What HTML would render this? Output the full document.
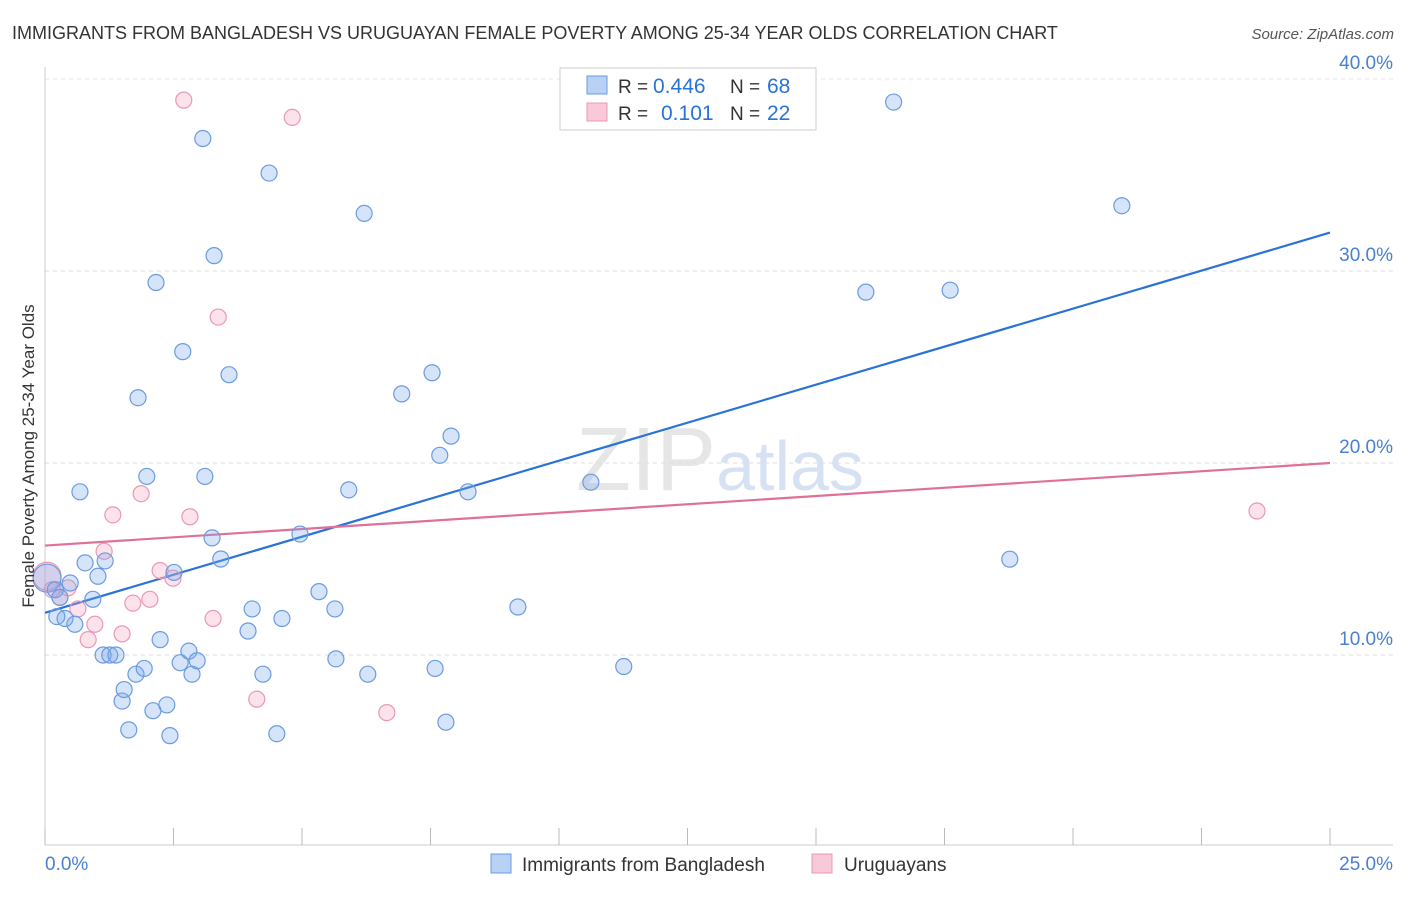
<!DOCTYPE html>
<html><head><meta charset="utf-8"><style>
body{margin:0;background:#fff;font-family:"Liberation Sans",sans-serif;}
svg text{font-family:"Liberation Sans",sans-serif;}
</style></head><body>
<svg id="chart" width="1406" height="892" xmlns="http://www.w3.org/2000/svg">
<text x="12" y="39" font-size="18" fill="#333">IMMIGRANTS FROM BANGLADESH VS URUGUAYAN FEMALE POVERTY AMONG 25-34 YEAR OLDS CORRELATION CHART</text>
<text x="1394" y="39" font-size="15" fill="#555" text-anchor="end" font-style="italic">Source: ZipAtlas.com</text>
<text x="720" y="490" font-size="90" fill="#e6e6e6" text-anchor="middle" font-family="Liberation Serif">ZIP<tspan fill="#d6e2f4" font-family="Liberation Sans" font-size="70">atlas</tspan></text>
<g id="grid"></g>
<g id="axes"></g>
<g id="lines"></g>
<g id="pts"></g>
<text transform="translate(34,456) rotate(-90)" font-size="17" fill="#333" text-anchor="middle">Female Poverty Among 25-34 Year Olds</text>
<g>
<rect x="560" y="68" width="256" height="62" fill="#fff" stroke="#ccc"/>
<rect x="587" y="76" width="20" height="18" fill="#b9d1f5" stroke="#6a9be0"/>
<text x="618" y="93" font-size="19" fill="#333">R =</text>
<text x="653" y="93" font-size="21" fill="#2a73d6">0.446</text>
<text x="730" y="93" font-size="19" fill="#333">N =</text>
<text x="767" y="93" font-size="21" fill="#2a73d6">68</text>
<rect x="587" y="103" width="20" height="18" fill="#f9c9d9" stroke="#e898b4"/>
<text x="618" y="120" font-size="19" fill="#333">R =</text>
<text x="661" y="120" font-size="21" fill="#2a73d6">0.101</text>
<text x="730" y="120" font-size="19" fill="#333">N =</text>
<text x="767" y="120" font-size="21" fill="#2a73d6">22</text>
</g>
<g>
<rect x="491" y="854" width="20" height="19" fill="#b9d1f5" stroke="#6a9be0"/>
<text x="522" y="871" font-size="19" fill="#333">Immigrants from Bangladesh</text>
<rect x="812" y="854" width="20" height="19" fill="#f9c9d9" stroke="#e898b4"/>
<text x="844" y="871" font-size="19" fill="#333">Uruguayans</text>
</g>
</svg>
<script>
const yTicks=[10,20,30,40];
const yTickLabels=["10.0%","20.0%","30.0%","40.0%"];
const xTickLabels=["0.0%","25.0%"];
const blueX=[0.04,0.2,0.29,0.23,0.39,0.49,0.58,0.68,0.78,0.93,1.03,1.13,1.17,1.26,1.38,1.5,1.54,1.63,1.77,1.81,1.93,1.98,2.1,2.16,2.24,2.37,2.43,2.51,2.63,2.68,2.8,2.86,2.96,3.07,3.11,3.25,3.29,3.42,3.58,3.95,4.03,4.24,4.36,4.51,4.61,4.96,5.33,5.64,5.66,5.91,6.21,6.28,6.94,7.53,7.59,7.68,7.8,7.9,8.23,9.2,10.62,11.26,15.97,16.51,17.61,18.77,20.95];
const blueY=[14.0,13.4,13.0,12.0,11.9,13.75,11.6,18.5,14.8,12.9,14.1,10.0,14.9,10.0,10.0,7.6,8.2,6.1,9.0,23.4,9.3,19.3,7.1,29.4,10.8,7.4,5.8,14.3,9.6,25.8,10.2,9.0,9.7,36.9,19.3,16.1,30.8,15.0,24.6,11.25,12.4,9.0,35.1,5.9,11.9,16.3,13.3,12.4,9.8,18.6,33.0,9.0,23.6,24.7,9.3,20.4,6.5,21.4,18.5,12.5,19.0,9.4,28.9,38.8,29.0,14.99,33.4];
const pinkX=[0.04,0.14,0.29,0.45,0.64,0.84,0.97,1.15,1.32,1.5,1.71,1.87,2.04,2.24,2.49,2.7,2.82,3.27,3.37,4.12,4.81,6.65,23.58];
const pinkY=[14.1,13.4,13.0,13.5,12.4,10.8,11.6,15.4,17.3,11.1,12.7,18.4,12.9,14.4,14.0,38.9,17.2,11.9,27.6,7.7,38.0,7.0,17.5];
const blueFit=[12.2,32.0];
const pinkFit=[15.7,20.0];
const X0=45,XS=51.4,Y0=847,YS=19.2;
const xs=v=>X0+v*XS, ys=v=>Y0-v*YS;
const NS="http://www.w3.org/2000/svg";
function mk(tag,attrs,parent){const e=document.createElementNS(NS,tag);for(const k in attrs)e.setAttribute(k,attrs[k]);document.getElementById(parent).appendChild(e);return e;}
yTicks.forEach((t,i)=>{
 const g=mk('line',{x1:45,x2:1393,y1:ys(t),y2:ys(t),stroke:'#ddd','stroke-dasharray':'4,4'},'grid');
 
 
 const l=mk('text',{x:1393,y:ys(t)-17+7,'font-size':19,fill:'#4a80d0','text-anchor':'end'},'axes');
 l.textContent=yTickLabels[i];
 
 
});
const topLine=mk('line',{x1:45,x2:1393,y1:79,y2:79,stroke:'#e4e4e4','stroke-dasharray':'4,4'},'grid');


const ax=mk('line',{x1:45,x2:1393,y1:845,y2:845,stroke:'#ccc'},'axes');


const ay=mk('line',{x1:45,x2:45,y1:67,y2:845,stroke:'#ccc'},'axes');


for(let i=0;i<=10;i++){const t=mk('line',{x1:xs(i*2.5),x2:xs(i*2.5),y1:828,y2:845,stroke:'#bbb'},'axes');
 
 }
[[0,45,'start'],[25,1393,'end']].forEach((d,i)=>{const t=mk('text',{x:d[1],y:870,'font-size':19,fill:'#4a80d0','text-anchor':d[2]},'axes');t.textContent=xTickLabels[i];
 
 });
function drawPts(X,Y,fill,stroke,name){X.forEach((x,i)=>{const c=mk('circle',{cx:xs(x),cy:ys(Y[i]),r:(i===0?14:8),fill:fill,stroke:stroke,'stroke-width':1.2},'pts');
 
 });}
drawPts(pinkX,pinkY,'rgba(244,160,190,0.3)','#e898b4','uruguayan-point');
drawPts(blueX,blueY,'rgba(120,165,235,0.3)','#6a9be0','bangladesh-point');
const bl=mk('line',{x1:xs(0),x2:xs(25),y1:ys(blueFit[0]),y2:ys(blueFit[1]),stroke:'#2a73d6','stroke-width':2.2},'lines');


const pl=mk('line',{x1:xs(0),x2:xs(25),y1:ys(pinkFit[0]),y2:ys(pinkFit[1]),stroke:'#e0709a','stroke-width':2.2},'lines');


</script>
</body></html>
